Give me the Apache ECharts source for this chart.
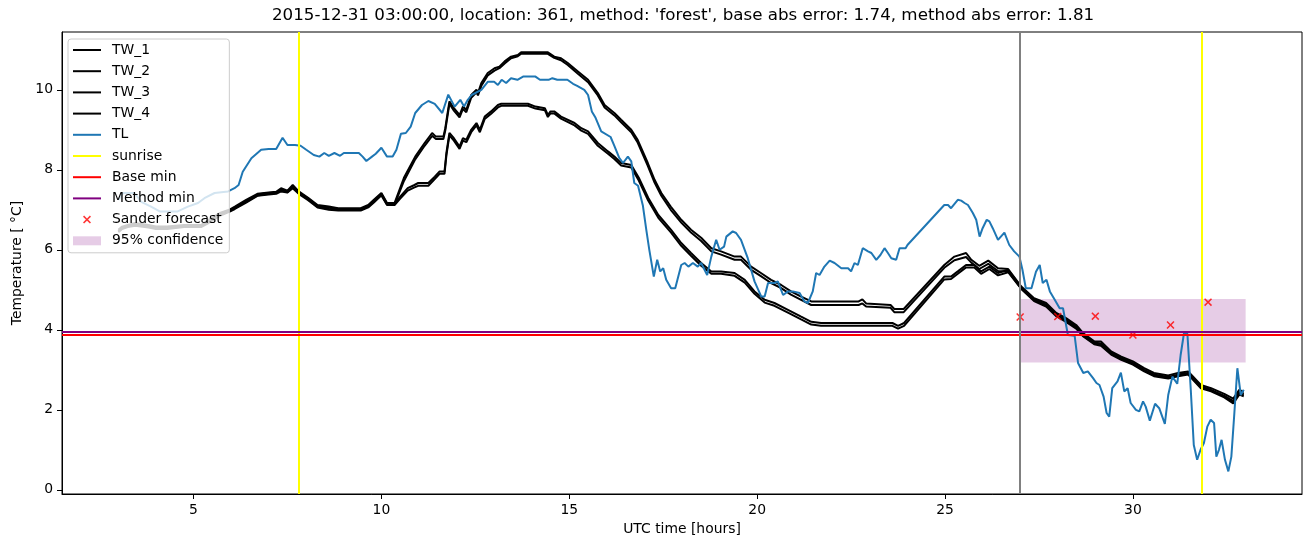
<!DOCTYPE html>
<html>
<head>
<meta charset="utf-8">
<script src="https://cdn.jsdelivr.net/npm/echarts@6.0.0/dist/echarts.min.js"></script>
<style>
html,body{margin:0;padding:0;background:#fff;}
#chart{width:1310px;height:547px;}
</style>
</head>
<body>
<div id="chart"></div>
<script>
// ---- data ----
const titleText = "2015-12-31 03:00:00, location: 361, method: 'forest', base abs error: 1.74, method abs error: 1.81";
const xTicks = [5, 10, 15, 20, 25, 30];
const yTicks = [0, 2, 4, 6, 8, 10];

const TW_1 = [[3.0,6.5],[3.1,6.58],[3.25,6.62],[3.45,6.67],[3.8,6.62],[4.0,6.58],[4.3,6.58],[4.75,6.62],[5.2,6.62],[5.4,6.75],[5.7,6.92],[5.95,7.0],[6.1,7.08],[6.4,7.25],[6.7,7.4],[7.0,7.43],[7.2,7.45],[7.33,7.54],[7.5,7.48],[7.64,7.62],[7.8,7.46],[8.05,7.3],[8.3,7.12],[8.6,7.08],[8.85,7.04],[9.45,7.04],[9.65,7.12],[9.8,7.25],[10.0,7.42],[10.15,7.17],[10.35,7.17],[10.6,7.8],[10.9,8.33],[11.15,8.67],[11.35,8.92],[11.45,8.83],[11.65,8.83],[11.7,9.04],[11.81,9.71],[11.93,9.54],[12.08,9.37],[12.17,9.58],[12.26,9.5],[12.39,9.87],[12.53,10.0],[12.57,9.92],[12.66,10.17],[12.83,10.42],[13.01,10.54],[13.14,10.58],[13.28,10.71],[13.45,10.83],[13.63,10.87],[13.72,10.94],[14.43,10.94],[14.6,10.83],[14.78,10.79],[14.96,10.67],[15.23,10.46],[15.5,10.25],[15.76,9.92],[15.94,9.62],[16.2,9.42],[16.38,9.25],[16.65,9.0],[16.82,8.75],[17.09,8.17],[17.27,7.75],[17.45,7.42],[17.7,7.08],[17.98,6.75],[18.24,6.5],[18.51,6.3],[18.78,6.04],[19.04,5.96],[19.4,5.83],[19.57,5.83],[19.84,5.58],[20.1,5.42],[20.37,5.25],[20.64,5.12],[20.9,4.96],[21.17,4.83],[21.44,4.71],[22.24,4.71],[22.7,4.71],[22.8,4.76],[22.9,4.66],[23.55,4.62],[23.65,4.52],[23.9,4.52],[24.98,5.62],[25.25,5.83],[25.56,5.92],[25.7,5.75],[25.91,5.6],[26.15,5.73],[26.41,5.54],[26.68,5.52],[27.03,5.08],[27.37,4.79],[27.69,4.67],[27.96,4.42],[28.22,4.29],[28.49,4.12],[28.67,3.92],[28.97,3.71],[29.15,3.71],[29.42,3.46],[29.69,3.33],[30.0,3.21],[30.3,3.04],[30.56,2.92],[30.94,2.86],[31.2,2.92],[31.47,2.96],[31.81,2.62],[32.08,2.54],[32.43,2.4],[32.67,2.28],[32.83,2.5],[32.95,2.45]];

const TW_2 = [[3.0,6.46],[3.1,6.54],[3.25,6.6],[3.45,6.62],[3.8,6.58],[4.0,6.54],[4.3,6.54],[4.75,6.58],[5.2,6.58],[5.4,6.71],[5.7,6.88],[5.95,6.96],[6.1,7.04],[6.4,7.2],[6.7,7.36],[7.0,7.4],[7.2,7.42],[7.33,7.5],[7.5,7.44],[7.64,7.58],[7.8,7.42],[8.05,7.26],[8.3,7.08],[8.6,7.02],[8.85,7.0],[9.45,7.0],[9.65,7.08],[9.8,7.2],[10.0,7.38],[10.15,7.13],[10.35,7.13],[10.6,7.72],[10.9,8.26],[11.15,8.6],[11.35,8.85],[11.45,8.77],[11.65,8.77],[11.7,8.98],[11.81,9.65],[11.93,9.48],[12.08,9.31],[12.17,9.52],[12.26,9.44],[12.39,9.8],[12.53,9.94],[12.57,9.86],[12.66,10.1],[12.83,10.36],[13.01,10.48],[13.14,10.54],[13.28,10.66],[13.45,10.79],[13.63,10.84],[13.72,10.9],[14.43,10.9],[14.6,10.8],[14.78,10.74],[14.96,10.62],[15.23,10.4],[15.5,10.19],[15.76,9.86],[15.94,9.56],[16.2,9.36],[16.38,9.19],[16.65,8.94],[16.82,8.68],[17.09,8.1],[17.27,7.68],[17.45,7.35],[17.7,7.0],[17.98,6.68],[18.24,6.43],[18.51,6.22],[18.78,5.96],[19.04,5.88],[19.4,5.75],[19.57,5.75],[19.84,5.5],[20.1,5.34],[20.37,5.17],[20.64,5.04],[20.9,4.88],[21.17,4.75],[21.44,4.62],[22.24,4.62],[22.7,4.62],[22.8,4.66],[22.9,4.58],[23.55,4.55],[23.65,4.44],[23.9,4.44],[24.98,5.55],[25.25,5.74],[25.56,5.82],[25.7,5.68],[25.91,5.52],[26.15,5.65],[26.41,5.47],[26.68,5.46],[27.03,5.03],[27.37,4.74],[27.69,4.62],[27.96,4.37],[28.22,4.24],[28.49,4.06],[28.67,3.86],[28.97,3.66],[29.15,3.64],[29.42,3.4],[29.69,3.27],[30.0,3.15],[30.3,2.98],[30.56,2.86],[30.94,2.8],[31.2,2.86],[31.47,2.9],[31.81,2.56],[32.08,2.48],[32.43,2.34],[32.67,2.22],[32.83,2.44],[32.95,2.4]];

const TW_3 = [[3.0,6.46],[3.1,6.55],[3.25,6.6],[3.45,6.64],[3.8,6.6],[4.0,6.55],[4.3,6.55],[4.75,6.6],[5.2,6.6],[5.4,6.7],[5.7,6.88],[5.95,6.98],[6.1,7.05],[6.4,7.22],[6.7,7.38],[7.0,7.42],[7.2,7.43],[7.33,7.5],[7.5,7.46],[7.64,7.58],[7.8,7.44],[8.05,7.28],[8.3,7.1],[8.6,7.05],[8.85,7.02],[9.45,7.02],[9.65,7.1],[9.8,7.22],[10.0,7.4],[10.15,7.15],[10.35,7.15],[10.5,7.33],[10.7,7.54],[10.88,7.62],[10.98,7.67],[11.25,7.67],[11.42,7.83],[11.55,7.96],[11.68,7.96],[11.73,8.42],[11.81,8.92],[11.93,8.79],[12.08,8.58],[12.17,8.79],[12.26,8.75],[12.39,9.0],[12.53,9.17],[12.62,9.0],[12.75,9.33],[12.92,9.46],[13.1,9.62],[13.19,9.65],[13.9,9.65],[14.1,9.58],[14.35,9.54],[14.43,9.37],[14.5,9.46],[14.6,9.46],[14.78,9.33],[15.14,9.17],[15.32,9.04],[15.5,8.96],[15.76,8.67],[16.03,8.46],[16.2,8.33],[16.38,8.17],[16.65,8.12],[16.85,7.8],[17.1,7.3],[17.37,6.87],[17.71,6.5],[17.98,6.17],[18.24,5.92],[18.51,5.67],[18.78,5.46],[19.04,5.46],[19.4,5.42],[19.67,5.25],[19.93,4.96],[20.2,4.75],[20.46,4.67],[20.82,4.5],[21.17,4.33],[21.44,4.2],[21.7,4.17],[23.6,4.17],[23.75,4.1],[23.91,4.17],[24.98,5.33],[25.16,5.33],[25.34,5.46],[25.56,5.62],[25.78,5.62],[25.96,5.46],[26.18,5.58],[26.41,5.42],[26.68,5.5],[27.03,5.06],[27.37,4.76],[27.69,4.62],[27.96,4.38],[28.22,4.25],[28.49,4.08],[28.67,3.88],[28.97,3.68],[29.15,3.66],[29.42,3.42],[29.69,3.3],[30.0,3.17],[30.3,3.0],[30.56,2.88],[30.94,2.82],[31.2,2.88],[31.47,2.92],[31.81,2.58],[32.08,2.5],[32.43,2.35],[32.67,2.2],[32.83,2.42],[32.95,2.38]];

const TW_4 = [[3.0,6.44],[3.1,6.52],[3.25,6.57],[3.45,6.6],[3.8,6.56],[4.0,6.52],[4.3,6.52],[4.75,6.57],[5.2,6.57],[5.4,6.67],[5.7,6.85],[5.95,6.95],[6.1,7.02],[6.4,7.18],[6.7,7.35],[7.0,7.38],[7.2,7.4],[7.33,7.46],[7.5,7.43],[7.64,7.54],[7.8,7.4],[8.05,7.24],[8.3,7.06],[8.6,7.0],[8.85,6.98],[9.45,6.98],[9.65,7.06],[9.8,7.18],[10.0,7.36],[10.15,7.12],[10.35,7.12],[10.5,7.28],[10.7,7.48],[10.88,7.56],[10.98,7.6],[11.25,7.6],[11.42,7.77],[11.55,7.9],[11.68,7.9],[11.73,8.36],[11.81,8.86],[11.93,8.73],[12.08,8.52],[12.17,8.73],[12.26,8.69],[12.39,8.94],[12.53,9.11],[12.62,8.94],[12.75,9.27],[12.92,9.4],[13.1,9.56],[13.19,9.6],[13.9,9.6],[14.1,9.53],[14.35,9.49],[14.43,9.32],[14.5,9.41],[14.6,9.41],[14.78,9.28],[15.14,9.11],[15.32,8.98],[15.5,8.9],[15.76,8.6],[16.03,8.4],[16.2,8.27],[16.38,8.11],[16.65,8.06],[16.85,7.73],[17.1,7.23],[17.37,6.8],[17.71,6.43],[17.98,6.1],[18.24,5.85],[18.51,5.6],[18.78,5.4],[19.04,5.4],[19.4,5.35],[19.67,5.18],[19.93,4.9],[20.2,4.68],[20.46,4.6],[20.82,4.43],[21.17,4.26],[21.44,4.13],[21.7,4.1],[23.6,4.1],[23.75,4.03],[23.91,4.1],[24.98,5.26],[25.16,5.27],[25.34,5.4],[25.56,5.56],[25.78,5.56],[25.96,5.4],[26.18,5.52],[26.41,5.36],[26.68,5.44],[27.03,5.02],[27.37,4.72],[27.69,4.58],[27.96,4.34],[28.22,4.2],[28.49,4.03],[28.67,3.84],[28.97,3.64],[29.15,3.6],[29.42,3.38],[29.69,3.25],[30.0,3.13],[30.3,2.96],[30.56,2.84],[30.94,2.78],[31.2,2.84],[31.47,2.88],[31.81,2.54],[32.08,2.46],[32.43,2.31],[32.67,2.16],[32.83,2.38],[32.95,2.34]];

const TL = [[3.0,7.25],[3.13,7.42],[3.43,7.42],[3.61,7.2],[3.87,7.08],[4.1,6.96],[4.58,6.96],[4.85,7.08],[5.12,7.17],[5.29,7.29],[5.56,7.42],[5.92,7.46],[6.09,7.54],[6.2,7.62],[6.31,7.95],[6.54,8.29],[6.8,8.5],[7.0,8.52],[7.2,8.52],[7.37,8.8],[7.5,8.62],[7.7,8.62],[7.85,8.6],[8.0,8.5],[8.2,8.37],[8.35,8.33],[8.48,8.42],[8.6,8.35],[8.75,8.42],[8.9,8.35],[9.0,8.42],[9.4,8.42],[9.5,8.33],[9.6,8.22],[9.75,8.33],[9.85,8.4],[10.0,8.55],[10.15,8.33],[10.3,8.33],[10.4,8.5],[10.52,8.9],[10.65,8.92],[10.78,9.08],[10.9,9.42],[11.08,9.62],[11.25,9.72],[11.42,9.65],[11.62,9.42],[11.78,9.88],[11.95,9.58],[12.1,9.75],[12.2,9.58],[12.3,9.75],[12.4,9.87],[12.66,10.0],[12.83,10.2],[13.0,10.2],[13.1,10.12],[13.2,10.25],[13.32,10.17],[13.45,10.29],[13.62,10.25],[13.77,10.33],[14.1,10.33],[14.22,10.25],[14.45,10.25],[14.55,10.29],[14.68,10.25],[14.95,10.25],[15.1,10.15],[15.21,10.1],[15.4,10.0],[15.5,9.87],[15.6,9.46],[15.7,9.3],[15.85,8.96],[16.1,8.82],[16.2,8.6],[16.33,8.3],[16.43,8.17],[16.56,8.33],[16.65,8.21],[16.73,7.67],[16.83,7.6],[16.96,7.1],[17.05,6.5],[17.13,6.0],[17.25,5.33],[17.34,5.75],[17.42,5.46],[17.5,5.54],[17.58,5.25],[17.71,5.04],[17.82,5.04],[17.98,5.62],[18.07,5.67],[18.17,5.58],[18.29,5.67],[18.42,5.58],[18.51,5.67],[18.67,5.37],[18.78,5.83],[18.91,6.25],[19.0,6.0],[19.12,6.08],[19.18,6.33],[19.35,6.46],[19.44,6.42],[19.57,6.25],[19.75,5.79],[19.93,5.21],[20.11,4.83],[20.2,4.83],[20.29,5.17],[20.46,5.17],[20.55,5.21],[20.69,4.87],[20.82,4.96],[20.95,4.96],[21.13,4.92],[21.26,4.71],[21.35,4.67],[21.48,4.96],[21.57,5.42],[21.66,5.37],[21.79,5.58],[21.93,5.73],[22.06,5.67],[22.24,5.54],[22.42,5.54],[22.5,5.46],[22.59,5.67],[22.68,5.62],[22.81,6.04],[22.95,5.96],[23.04,5.92],[23.17,5.75],[23.28,5.87],[23.39,6.04],[23.48,5.92],[23.57,5.79],[23.7,5.75],[23.79,6.04],[23.95,6.04],[24.0,6.12],[24.98,7.12],[25.08,7.12],[25.16,7.04],[25.34,7.25],[25.43,7.23],[25.52,7.17],[25.61,7.12],[25.74,6.92],[25.83,6.75],[25.92,6.33],[26.0,6.54],[26.11,6.75],[26.18,6.71],[26.27,6.54],[26.41,6.25],[26.58,6.43],[26.71,6.12],[26.84,5.96],[26.98,5.83],[27.06,5.5],[27.15,5.04],[27.3,5.04],[27.42,5.45],[27.52,5.62],[27.6,5.17],[27.7,5.25],[27.79,4.96],[27.92,4.75],[28.05,4.54],[28.14,4.54],[28.27,3.87],[28.45,3.85],[28.54,3.17],[28.68,2.92],[28.8,2.96],[28.94,2.79],[29.03,2.67],[29.11,2.62],[29.22,2.33],[29.3,1.92],[29.37,1.83],[29.45,2.54],[29.59,2.71],[29.68,2.93],[29.77,2.46],[29.86,2.54],[29.94,2.17],[30.08,2.0],[30.17,1.96],[30.27,2.21],[30.34,2.08],[30.45,1.73],[30.59,2.15],[30.7,2.04],[30.85,1.65],[30.94,2.37],[31.05,2.83],[31.18,2.65],[31.27,3.37],[31.36,3.92],[31.45,3.9],[31.54,2.5],[31.62,1.12],[31.71,0.75],[31.8,1.0],[31.89,1.17],[31.98,1.58],[32.07,1.75],[32.16,1.67],[32.22,0.83],[32.29,1.0],[32.36,1.25],[32.45,0.75],[32.54,0.46],[32.62,0.83],[32.7,1.92],[32.78,3.04],[32.87,2.37],[32.95,2.5]];

const sunriseTimes = [7.81, 31.82];
const baseMin = 3.88;
const methodMin = 3.95;
const forecastStart = 27.0;
const sanderTimes = [27, 28, 29, 30, 31, 32];
const sanderValues = [4.32, 4.33, 4.34, 3.87, 4.12, 4.69];
const confTimes = [27.0, 33.0];
const confBounds = [3.18, 4.77];

// ---- styling ----
const FONT = 'DejaVu Sans';
const X_SYMBOL = 'path://M0,0M14,14M3,4.1L4.1,3L7,5.9L9.9,3L11,4.1L8.1,7L11,9.9L9.9,11L7,8.1L4.1,11L3,9.9L5.9,7Z';
const X_LEGEND = 'path://M0,0M28,14M10,4.1L11.1,3L14,5.9L16.9,3L18,4.1L15.1,7L18,9.9L16.9,11L14,8.1L11.1,11L10,9.9L12.9,7Z';
const LINE_LEGEND = 'path://M0,0M28,14M0,6L28,6L28,8L0,8Z';
const RECT_LEGEND = 'path://M0,0M28,14M0,2.5L28,2.5L28,11.5L0,11.5Z';
const PINK = 'rgba(128,0,128,0.2)';

function lineSeries(name, data, color) {
  return {name, type: 'line', data, symbol: 'none', showSymbol: false,
    lineStyle: {color, width: 2}, itemStyle: {color},
    emphasis: {disabled: true}, animation: false, z: 2};
}
function markLineSeries(name, color, lines) {
  return {name, type: 'line', data: [], symbol: 'none',
    lineStyle: {color, width: 2}, itemStyle: {color}, animation: false, z: 3,
    markLine: {symbol: 'none', silent: true, animation: false, label: {show: false},
      emphasis: {disabled: true},
      lineStyle: {color, width: 2, type: 'solid'}, data: lines}};
}
function lineLegend(name, color) {
  return {name, icon: LINE_LEGEND, itemStyle: {color, borderWidth: 0}};
}

const chart = echarts.init(document.getElementById('chart'), null, {renderer: 'canvas'});
chart.setOption({
  backgroundColor: '#ffffff',
  animation: false,
  title: {text: titleText, left: 272, top: 7, padding: 0,
    textStyle: {fontFamily: FONT, fontSize: 16.7, fontWeight: 'normal', color: '#000'}},
  grid: {left: 62, right: 8, top: 32, bottom: 53, show: true, borderColor: '#000', borderWidth: 1, backgroundColor: 'transparent'},
  legend: {
    orient: 'vertical', left: 68, top: 39, padding: [4, 6, 5, 5],
    itemWidth: 28, itemHeight: 14, itemGap: 7.2,
    backgroundColor: 'rgba(255,255,255,0.8)', borderColor: '#cccccc', borderWidth: 1, borderRadius: 3,
    textStyle: {fontFamily: FONT, fontSize: 13.9, color: '#000', padding: [0, 0, 0, 6], lineHeight: 14},
    selectedMode: false,
    data: [
      lineLegend('TW_1', '#000000'), lineLegend('TW_2', '#000000'),
      lineLegend('TW_3', '#000000'), lineLegend('TW_4', '#000000'),
      lineLegend('TL', '#1f77b4'), lineLegend('sunrise', '#ffff00'),
      lineLegend('Base min', '#ff0000'), lineLegend('Method min', '#800080'),
      {name: 'Sander forecast', icon: X_LEGEND, itemStyle: {color: '#ff0000', borderWidth: 0}},
      {name: '95% confidence', icon: RECT_LEGEND, itemStyle: {color: PINK, borderWidth: 0}}
    ]
  },
  xAxis: {
    type: 'value', min: 1.5, max: 34.5,
    name: 'UTC time [hours]', nameLocation: 'middle', nameGap: 28,
    nameTextStyle: {fontFamily: FONT, fontSize: 13.9, color: '#000'},
    axisLine: {show: true, onZero: false, lineStyle: {color: '#000', width: 1}},
    axisTick: {show: true, length: 5, customValues: xTicks, lineStyle: {color: '#000', width: 1}},
    axisLabel: {customValues: xTicks, color: '#000', fontFamily: FONT, fontSize: 13.9, margin: 9},
    splitLine: {show: false}
  },
  yAxis: {
    type: 'value', min: -0.105, max: 11.445,
    name: 'Temperature [ °C]', nameLocation: 'middle', nameGap: 36, nameRotate: 90,
    nameTextStyle: {fontFamily: FONT, fontSize: 13.9, color: '#000'},
    axisLine: {show: true, onZero: false, lineStyle: {color: '#000', width: 1}},
    axisTick: {show: true, length: 5, customValues: yTicks, lineStyle: {color: '#000', width: 1}},
    axisLabel: {customValues: yTicks, color: '#000', fontFamily: FONT, fontSize: 13.9, margin: 9},
    splitLine: {show: false}
  },
  series: [
    lineSeries('TW_1', TW_1, '#000000'),
    lineSeries('TW_2', TW_2, '#000000'),
    lineSeries('TW_3', TW_3, '#000000'),
    lineSeries('TW_4', TW_4, '#000000'),
    lineSeries('TL', TL, '#1f77b4'),
    markLineSeries('sunrise', '#ffff00', sunriseTimes.map(t => ({xAxis: t}))),
    markLineSeries('Base min', '#ff0000', [{yAxis: baseMin}]),
    markLineSeries('Method min', '#800080', [{yAxis: methodMin}]),
    markLineSeries('forecast start', '#808080', [{xAxis: forecastStart}]),
    {name: 'Sander forecast', type: 'scatter', symbol: X_SYMBOL, symbolSize: 14,
      data: sanderTimes.map((t, i) => [t, sanderValues[i]]),
      itemStyle: {color: '#ff0000'}, emphasis: {disabled: true}, animation: false, z: 4},
    {name: '95% confidence', type: 'line', data: [], symbol: 'none',
      lineStyle: {color: PINK}, itemStyle: {color: PINK}, animation: false, z: 5,
      markArea: {silent: true, animation: false, itemStyle: {color: PINK},
        data: [[{xAxis: confTimes[0], yAxis: confBounds[0]}, {xAxis: confTimes[1], yAxis: confBounds[1]}]]}}
  ]
});
</script>
</body>
</html>
